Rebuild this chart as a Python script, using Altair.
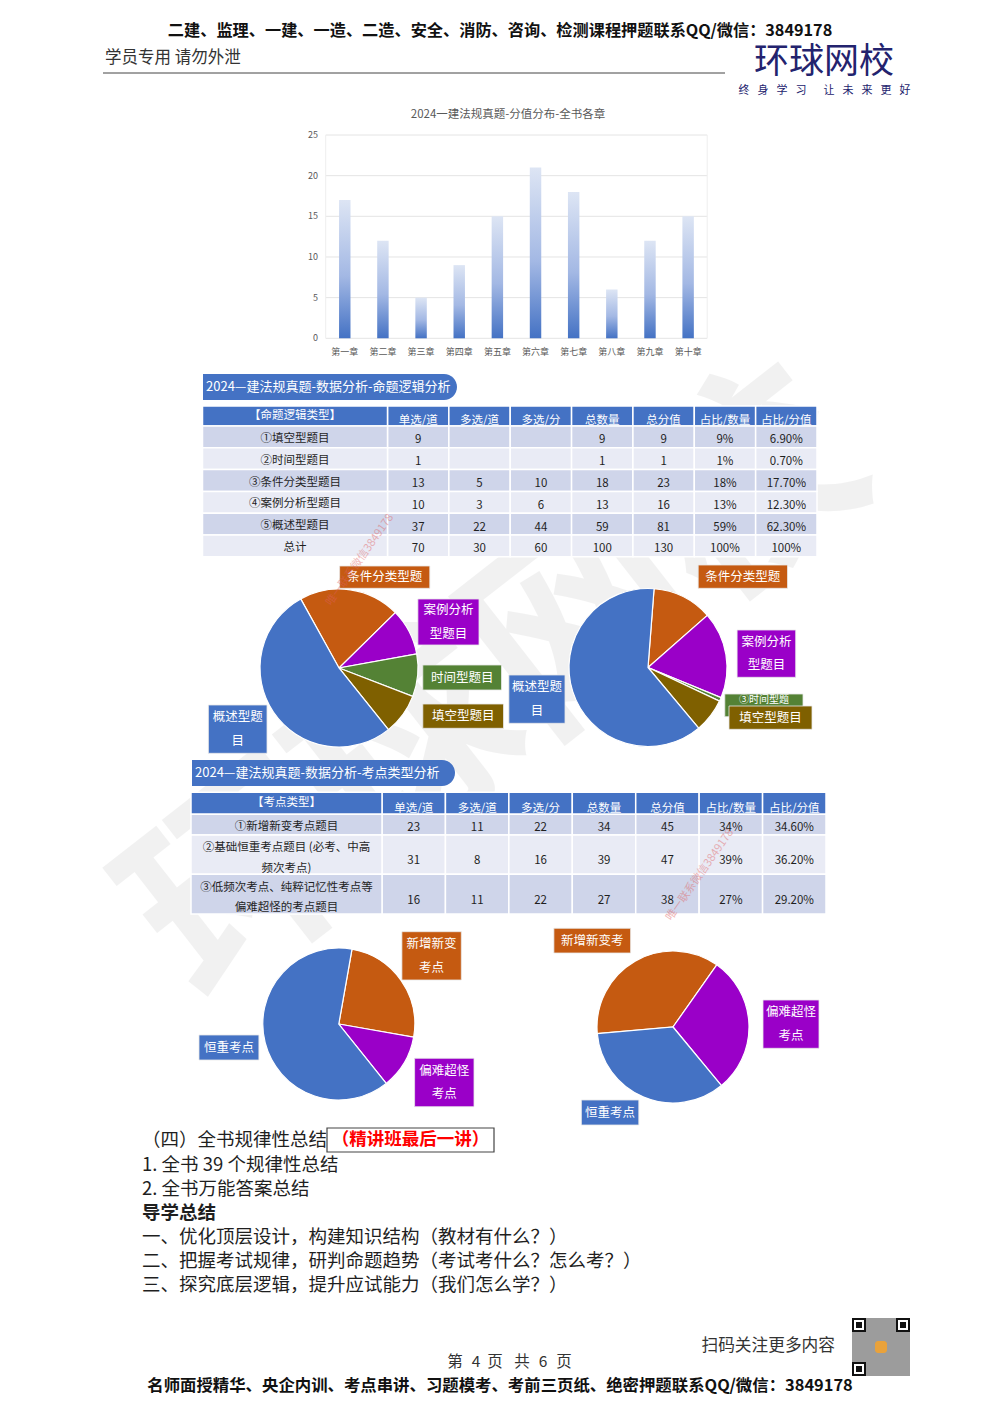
import math
import altair as alt
import pandas as pd

SANS = "Noto Sans CJK SC"
OFF = 8  # page margin: page coordinate -> chart coordinate

# ------------------------------------------------------------------ data
chapters = ["第一章", "第二章", "第三章", "第四章", "第五章",
            "第六章", "第七章", "第八章", "第九章", "第十章"]
chapter_scores = [17, 12, 5, 9, 15, 21, 18, 6, 12, 15]
y_ticks = [0, 5, 10, 15, 20, 25]

t1_columns = ["单选/道", "多选/道", "多选/分", "总数量", "总分值", "占比/数量", "占比/分值"]
t1_types = ["①填空型题目", "②时间型题目", "③条件分类型题目", "④案例分析型题目", "⑤概述型题目", "总计"]
t1_single = ["9", "1", "13", "10", "37", "70"]
t1_multi_n = ["", "", "5", "3", "22", "30"]
t1_multi_s = ["", "", "10", "6", "44", "60"]
t1_total_n = ["9", "1", "18", "13", "59", "100"]
t1_total_s = ["9", "1", "23", "16", "81", "130"]
t1_pct_n = ["9%", "1%", "18%", "13%", "59%", "100%"]
t1_pct_s = ["6.90%", "0.70%", "17.70%", "12.30%", "62.30%", "100%"]

t2_types = ["①新增新变考点题目",
            "②基础恒重考点题目 (必考、中高\n频次考点)",
            "③低频次考点、纯粹记忆性考点等\n偏难超怪的考点题目"]
t2_single = ["23", "31", "16"]
t2_multi_n = ["11", "8", "11"]
t2_multi_s = ["22", "16", "22"]
t2_total_n = ["34", "39", "27"]
t2_total_s = ["45", "47", "38"]
t2_pct_n = ["34%", "39%", "27%"]
t2_pct_s = ["34.60%", "36.20%", "29.20%"]

pie_logic_labels = ["条件分类型题目", "案例分析型题目", "时间型题目", "填空型题目", "概述型题目"]
pie_logic_left = [20.7, 9.5, 8.7, 8.4, 52.7]
pie_logic_right = [16, 23, 1, 9, 81]
pie_point_labels = ["新增新变考点", "偏难超怪考点", "恒重考点"]
pie_point_left = [25, 11.5, 63.5]
pie_point_right = [47, 38, 45]

# ------------------------------------------------------------------ style
BLUE = "#4472c4"
ORANGE = "#c55a11"
PURPLE = "#9a00c8"
GREEN = "#548235"
BROWN = "#7f6000"
DARK_ROW = "#cfd5ea"
LIGHT_ROW = "#e9ebf5"
TXT = "#1f1f1f"

pie_color_scale = alt.Scale(
    domain=pie_logic_labels + pie_point_labels,
    range=[ORANGE, PURPLE, GREEN, BROWN, BLUE, ORANGE, PURPLE, BLUE],
)


def one():
    return alt.Chart(pd.DataFrame({"k": [0]}))


def P(v):
    return v - OFF


def text_at(x, y, s, size=14, color=TXT, align="left", weight="normal",
            font=SANS, angle=0, opacity=1.0, baseline="middle", lh=None):
    kw = dict(align=align, baseline=baseline, fontSize=size, color=color,
              fontWeight=weight, font=font, opacity=opacity)
    if angle:
        kw["angle"] = angle
    if lh:
        kw["lineHeight"] = lh
        kw["lineBreak"] = "\n"
        y = y - (s.count("\n")) * lh / 2.0
    return alt.Chart(pd.DataFrame({"t": [s]})).mark_text(**kw).encode(
        x=alt.value(P(x)), y=alt.value(P(y)), text="t:N")


def box(x0, y0, x1, y1, **mark):
    return one().mark_rect(**mark).encode(
        x=alt.value(P(x0)), x2=alt.value(P(x1)), y=alt.value(P(y0)), y2=alt.value(P(y1)))


def hline(x0, x1, y, color="#333", w=1.0):
    return one().mark_rule(color=color, strokeWidth=w).encode(
        x=alt.value(P(x0)), x2=alt.value(P(x1)), y=alt.value(P(y)))


layers = []

# ------------------------------------------------------------------ watermarks
layers.append(text_at(500, 690, "环球网校", size=215, color="#7f7f7f", align="center",
                      weight="bold", angle=322, opacity=0.1))

# ------------------------------------------------------------------ page header
layers.append(text_at(500, 31, "二建、监理、一建、一造、二造、安全、消防、咨询、检测课程押题联系QQ/微信：3849178",
                      size=16.2, weight="bold", align="center", color="#111"))
layers.append(text_at(105, 58, "学员专用 请勿外泄", size=16.5, color="#333"))
layers.append(hline(103, 725, 73, color="#444", w=1))
layers.append(text_at(824, 62, "环球网校", size=35, color="#23236e", align="center"))
slogan = "终身学习让未来更好"
for i, ch in enumerate(slogan):
    cx = 744 + i * 19 + (9 if i >= 4 else 0)
    layers.append(text_at(cx, 91, ch, size=11, color="#23236e", align="center"))

# ------------------------------------------------------------------ bar chart
X0, X1 = 325.7, 707.2
YB, YT = 338.3, 135.0
xs_bar = alt.Scale(domain=chapters, range=[P(X0), P(X1)], paddingInner=0.7, paddingOuter=0.35)
ys_bar = alt.Scale(domain=[0, 25], range=[P(YB), P(YT)], nice=False)
bar_df = pd.DataFrame({"chapter": chapters, "score": chapter_scores})
tick_df = pd.DataFrame({"v": y_ticks})

grad = alt.Gradient(
    gradient="linear",
    stops=[alt.GradientStop(color="#dde5f4", offset=0),
           alt.GradientStop(color="#a3b8e4", offset=0.55),
           alt.GradientStop(color="#4472c4", offset=1)],
    x1=0, x2=0, y1=0, y2=1,
)
grid = alt.Chart(tick_df).mark_rule(color="#e4e4e4", strokeWidth=1).encode(
    y=alt.Y("v:Q", scale=ys_bar, axis=None), x=alt.value(P(X0)), x2=alt.value(P(X1)))
frame_l = one().mark_rule(color="#eeeeee").encode(
    x=alt.value(P(X0)), y=alt.value(P(YT)), y2=alt.value(P(YB)))
frame_r = one().mark_rule(color="#eeeeee").encode(
    x=alt.value(P(X1)), y=alt.value(P(YT)), y2=alt.value(P(YB)))
bars = alt.Chart(bar_df).mark_bar(color=grad).encode(
    x=alt.X("chapter:N", scale=xs_bar, axis=None, sort=chapters),
    y=alt.Y("score:Q", scale=ys_bar, axis=None))
ylabels = alt.Chart(tick_df).mark_text(align="right", baseline="middle", fontSize=9,
                                       color="#595959", font=SANS).encode(
    y=alt.Y("v:Q", scale=ys_bar, axis=None), x=alt.value(P(318)), text="v:Q")
xlabels = alt.Chart(bar_df).mark_text(align="center", baseline="middle", fontSize=9,
                                      color="#595959", font=SANS).encode(
    x=alt.X("chapter:N", scale=xs_bar, axis=None, sort=chapters), y=alt.value(P(352)),
    text="chapter:N")
bar_title = text_at(508, 115, "2024一建法规真题-分值分布-全书各章", size=11.5,
                    color="#595959", align="center")
layers.append(alt.layer(grid, frame_l, frame_r, bars, ylabels, xlabels))
layers.append(bar_title)


# ------------------------------------------------------------------ tables
def banner(x0, y0, x1, y1, s):
    b = box(x0, y0, x1, y1, color=BLUE, cornerRadiusTopRight=13, cornerRadiusBottomRight=13)
    t = text_at(x0 + 3, (y0 + y1) / 2, s, size=13, color="white")
    return [b, t]


def build_table(top, left, right, first_w, header_h, row_h, head_first, names, col_values):
    xs = alt.Scale(domain=t1_columns, range=[P(left + first_w), P(right)],
                   paddingInner=0, paddingOuter=0)
    edges = [0, header_h]
    for h in row_h:
        edges.append(edges[-1] + h)
    total = edges[-1]
    ys = alt.Scale(domain=[0, total], range=[P(top), P(top + total)], nice=False, zero=False)
    shade_scale = alt.Scale(domain=["header", "dark", "light"], range=[BLUE, DARK_ROW, LIGHT_ROW])
    LH = 20.5

    cells, heads, firsts = [], [], []
    for j, c in enumerate(t1_columns):
        heads.append(dict(col=c, txt=c, y0=0, y1=header_h, yt=header_h * 0.74, shade="header"))
        for i in range(len(names)):
            y0, y1 = edges[i + 1], edges[i + 2]
            cells.append(dict(col=c, txt=col_values[j][i], y0=y0, y1=y1,
                              yt=y0 + 0.66 * (y1 - y0), shade="dark" if i % 2 == 0 else "light"))
    firsts.append(dict(txt=head_first, y0=0, y1=header_h, yt=header_h * 0.5, shade="header"))
    for i, nm in enumerate(names):
        y0, y1 = edges[i + 1], edges[i + 2]
        firsts.append(dict(txt=nm, y0=y0, y1=y1,
                           yt=y0 + 0.6 * (y1 - y0) - nm.count("\n") * LH / 2.0,
                           shade="dark" if i % 2 == 0 else "light"))
    cdf = pd.DataFrame(heads + cells)
    fdf = pd.DataFrame(firsts)

    rect_num = alt.Chart(cdf).mark_rect(stroke="white", strokeWidth=1.5).encode(
        x=alt.X("col:N", scale=xs, axis=None, sort=t1_columns),
        y=alt.Y("y0:Q", scale=ys, axis=None), y2="y1:Q",
        color=alt.Color("shade:N", scale=shade_scale, legend=None))
    rect_first = alt.Chart(fdf).mark_rect(stroke="white", strokeWidth=1.5).encode(
        x=alt.value(P(left)), x2=alt.value(P(left + first_w)),
        y=alt.Y("y0:Q", scale=ys, axis=None), y2="y1:Q",
        color=alt.Color("shade:N", scale=shade_scale, legend=None))
    head_txt = alt.Chart(pd.DataFrame(heads)).mark_text(
        fontSize=11.5, color="white", font=SANS, baseline="middle").encode(
        x=alt.X("col:N", scale=xs, axis=None, sort=t1_columns),
        y=alt.Y("yt:Q", scale=ys, axis=None), text="txt:N")
    cell_txt = alt.Chart(pd.DataFrame(cells)).mark_text(
        fontSize=11.5, color=TXT, font=SANS, baseline="middle").encode(
        x=alt.X("col:N", scale=xs, axis=None, sort=t1_columns),
        y=alt.Y("yt:Q", scale=ys, axis=None), text="txt:N")
    first_txt = alt.Chart(fdf.iloc[1:]).mark_text(
        fontSize=11.5, color=TXT, font=SANS, baseline="middle", lineBreak="\n",
        lineHeight=LH).encode(
        x=alt.value(P(left + first_w / 2)),
        y=alt.Y("yt:Q", scale=ys, axis=None), text="txt:N")
    first_head = alt.Chart(fdf.iloc[:1]).mark_text(
        fontSize=11.5, color="white", font=SANS, baseline="middle").encode(
        x=alt.value(P(left + first_w / 2)),
        y=alt.Y("yt:Q", scale=ys, axis=None), text="txt:N")
    return alt.layer(rect_num, rect_first, head_txt, cell_txt, first_txt, first_head)


layers += banner(203, 374, 457, 400, "2024—建法规真题-数据分析-命题逻辑分析")
layers.append(build_table(406, 202.5, 817, 185, 20, [21.8] * 6, "【命题逻辑类型】", t1_types,
                          [t1_single, t1_multi_n, t1_multi_s, t1_total_n, t1_total_s,
                           t1_pct_n, t1_pct_s]))
layers += banner(192, 760, 455, 786, "2024—建法规真题-数据分析-考点类型分析")
layers.append(build_table(792.3, 191, 826, 191, 22, [20.7, 39.3, 39.7], "【考点类型】", t2_types,
                          [t2_single, t2_multi_n, t2_multi_s, t2_total_n, t2_total_s,
                           t2_pct_n, t2_pct_s]))


# ------------------------------------------------------------------ pies
def pie(labels, values, start_deg, cx, cy, r):
    df = pd.DataFrame({"label": labels, "value": values, "o": list(range(len(labels)))})
    a0 = math.radians(start_deg)
    return alt.Chart(df).mark_arc(stroke="white", strokeWidth=1.2).encode(
        theta=alt.Theta("value:Q", stack=True, scale=alt.Scale(range=[a0, a0 + 2 * math.pi])),
        order=alt.Order("o:Q"),
        color=alt.Color("label:N", scale=pie_color_scale, legend=None),
        x=alt.value(P(cx)), y=alt.value(P(cy)), radius=alt.value(r))


layers.append(pie(pie_logic_labels, pie_logic_left, 331, 339, 668, 79))
layers.append(pie(pie_logic_labels, pie_logic_right, 4.4, 648, 667.5, 79))
layers.append(pie(pie_point_labels, pie_point_left, 10, 338.8, 1024, 76))
layers.append(pie(pie_point_labels, pie_point_right, 265, 673, 1027, 76))

callouts = [
    (339.6, 566, 429.8, 588.3, "条件分类型题", ORANGE),
    (417.9, 599, 479, 645, "案例分析\n型题目", PURPLE),
    (422.8, 665, 501.5, 690, "时间型题目", GREEN),
    (422.8, 704, 503.5, 728.3, "填空型题目", BROWN),
    (208.4, 705, 267, 753.3, "概述型题\n目", BLUE),
    (698.2, 565, 787.5, 588.3, "条件分类型题", ORANGE),
    (737.1, 630, 795.7, 677.3, "案例分析\n型题目", PURPLE),
    (724.8, 694, 803, 716.7, "③时间型题", GREEN),
    (729, 706, 812, 729.3, "填空型题目", BROWN),
    (508.9, 675, 565, 723.3, "概述型题\n目", BLUE),
    (401.9, 931.7, 461.3, 980, "新增新变\n考点", ORANGE),
    (414.6, 1058.3, 474, 1106.7, "偏难超怪\n考点", PURPLE),
    (199, 1035, 258.9, 1060, "恒重考点", BLUE),
    (553.9, 928.3, 630.6, 953, "新增新变考", ORANGE),
    (763, 1000, 819, 1048.3, "偏难超怪\n考点", PURPLE),
    (581.4, 1100, 638.8, 1125, "恒重考点", BLUE),
]
for (x0, y0, x1, y1, s, c) in callouts:
    layers.append(box(x0, y0, x1, y1, color=c, stroke="#e8e8e8", strokeWidth=0.8))
    ty = (y0 + y1) / 2
    size = 12.5
    if s == "③时间型题":
        ty = y0 + 6
        size = 10
    layers.append(text_at((x0 + x1) / 2, ty, s, size=size, color="white", align="center",
                          lh=23.5))

# ------------------------------------------------------------------ body text
BODY = 18.5
layers.append(text_at(142, 1140, "（四）全书规律性总结", size=BODY))
layers.append(box(327, 1128, 494, 1152, fill="white", fillOpacity=0, stroke="#444", strokeWidth=1.2))
layers.append(text_at(410.5, 1140, "（精讲班最后一讲）", size=17.5, color="#ff0000",
                      weight="bold", align="center"))
layers.append(text_at(142, 1165, "1. 全书 39 个规律性总结", size=BODY))
layers.append(text_at(142, 1189, "2. 全书万能答案总结", size=BODY))
layers.append(text_at(142, 1213, "导学总结", size=BODY, weight="bold"))
layers.append(text_at(142, 1237, "一、优化顶层设计，构建知识结构（教材有什么？）", size=BODY))
layers.append(text_at(142, 1261, "二、把握考试规律，研判命题趋势（考试考什么？怎么考？）", size=BODY))
layers.append(text_at(142, 1285, "三、探究底层逻辑，提升应试能力（我们怎么学？）", size=BODY))

# ------------------------------------------------------------------ footer
layers.append(text_at(835, 1346, "扫码关注更多内容", size=16.7, align="right", color="#333"))
page_tokens = ["第", "4", "页", "共", "6", "页"]
page_x = [455, 476, 495, 522, 543, 564]
for tok, tx in zip(page_tokens, page_x):
    layers.append(text_at(tx, 1362, tok, size=15.5, align="center", color="#333"))
layers.append(text_at(500, 1386, "名师面授精华、央企内训、考点串讲、习题模考、考前三页纸、绝密押题联系QQ/微信：3849178",
                      size=16.4, weight="bold", align="center", color="#111"))
# QR-code stand-in
layers.append(box(852, 1318, 910, 1376, color="#9c9c9c"))
for (qx, qy) in [(852, 1318), (896, 1318), (852, 1362)]:
    layers.append(box(qx, qy, qx + 14, qy + 14, color="#111"))
    layers.append(box(qx + 2, qy + 2, qx + 12, qy + 12, color="white"))
    layers.append(box(qx + 4, qy + 4, qx + 10, qy + 10, color="#111"))
layers.append(box(875, 1341, 887, 1353, color="#e9a23b", cornerRadius=3))

# small red watermarks
layers.append(text_at(360, 560, "唯一联系微信3849178", size=11, color="#e06060",
                      align="center", angle=305, opacity=0.45))
layers.append(text_at(700, 875, "唯一联系微信3849178", size=11, color="#e06060",
                      align="center", angle=305, opacity=0.45))

chart = alt.layer(*layers).properties(
    width=984, height=1398, padding=0, autosize=alt.AutoSizeParams(type="none")
).resolve_scale(
    x="independent", y="independent", theta="independent", color="independent"
).configure_view(stroke=None)

chart.save("out.html", embed_options={"renderer": "svg", "actions": False})
